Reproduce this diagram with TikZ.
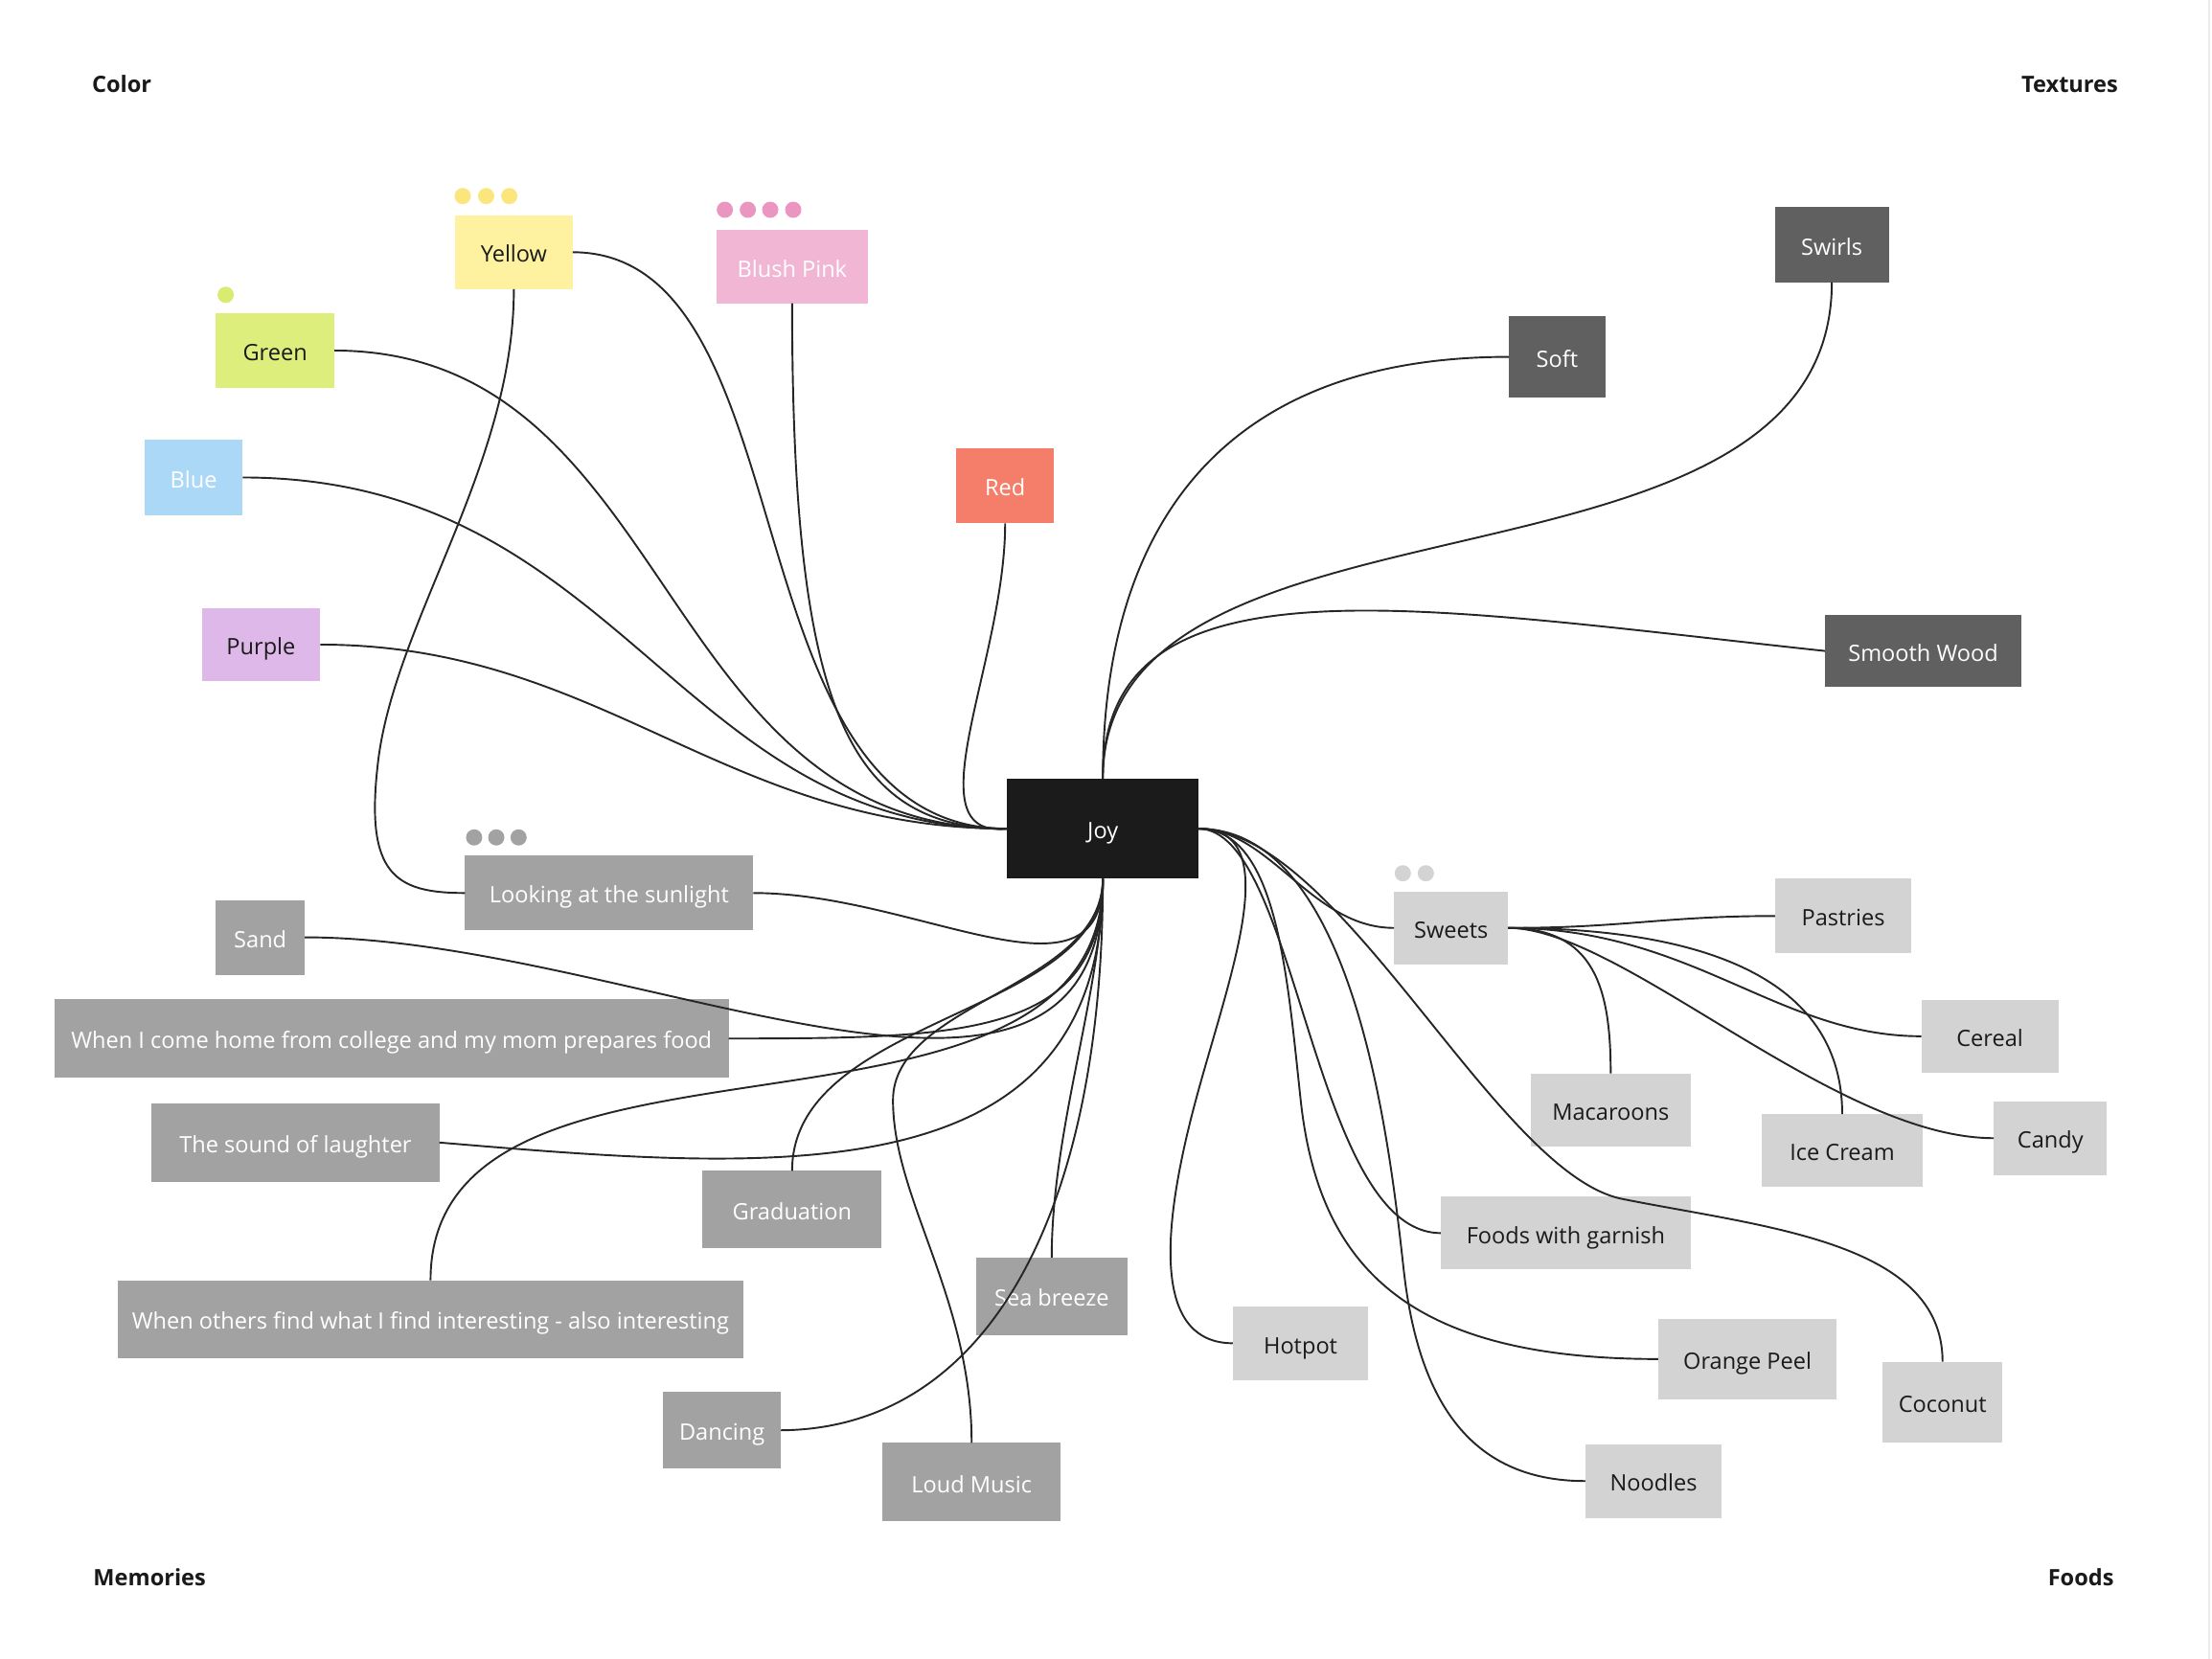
\documentclass[tikz,border=0pt]{standalone}
\usepackage{fontspec}
\setmainfont{Open Sans}
\definecolor{joyc}{HTML}{1B1B1B}
\definecolor{texc}{HTML}{606060}
\definecolor{memc}{HTML}{A2A2A2}
\definecolor{foodc}{HTML}{D3D3D3}
\definecolor{yelc}{HTML}{FEF2A0}
\definecolor{yeldot}{HTML}{FAE67C}
\definecolor{pinkc}{HTML}{F2B6D5}
\definecolor{pinkdot}{HTML}{EA96C0}
\definecolor{greenc}{HTML}{DDEE7D}
\definecolor{greendot}{HTML}{D9EB70}
\definecolor{bluec}{HTML}{ABD8F7}
\definecolor{purplec}{HTML}{DEB8E8}
\definecolor{redc}{HTML}{F47E69}
\definecolor{txtdark}{HTML}{1A1A1A}
\definecolor{linec}{HTML}{262626}
\begin{document}
\begin{tikzpicture}[x=1pt,y=-1pt,
  box/.style={rectangle, inner sep=0pt, outer sep=0pt, anchor=center,
    font=\fontsize{16}{19}\selectfont, text height=15.5pt, text depth=1pt},
  darktxt/.style={box, text=txtdark},
  lighttxt/.style={box, text=white},
  joybox/.style={lighttxt, fill=joyc},
  texbox/.style={lighttxt, fill=texc},
  membox/.style={lighttxt, fill=memc},
  foodbox/.style={darktxt, fill=foodc},
  title/.style={inner sep=0pt, font=\bfseries\fontsize{16}{19}\selectfont, text=txtdark},
  conn/.style={draw=linec, line width=1.3pt},
  dot/.style={circle, inner sep=0pt, minimum size=11.5pt}
]
\useasboundingbox (0,0) rectangle (1568,1176);
\fill[white] (0,0) rectangle (1568,1176);
\draw[draw=black!8, line width=1.5pt] (1566,0) -- (1566,1176);

% titles
\node[title, anchor=base west] (tcolor) at (65,65.5) {Color};
\node[title, anchor=base east] (ttex) at (1501.5,65.5) {Textures};
\node[title, anchor=base west] (tmem) at (66,1124) {Memories};
\node[title, anchor=base east] (tfood) at (1498.6,1124) {Foods};

% color nodes
\node[darktxt, fill=yelc, minimum width=83.5, minimum height=52.4] (yellow) at (364.25,178.8) {Yellow};
\node[lighttxt, fill=pinkc, minimum width=107, minimum height=52] (pink) at (561.5,189) {Blush Pink};
\node[darktxt, fill=greenc, minimum width=84, minimum height=53] (green) at (195,248.5) {Green};
\node[lighttxt, fill=bluec, minimum width=69.5, minimum height=53] (blue) at (137.25,338.5) {Blue};
\node[darktxt, fill=purplec, minimum width=84, minimum height=52] (purple) at (185,457) {Purple};
\node[lighttxt, fill=redc, minimum width=69, minimum height=53] (red) at (712.5,344.5) {Red};

% dots
\foreach \i/\x in {1/328,2/344.6,3/361} \node[dot, fill=yeldot] (yd\i) at (\x,139) {};
\foreach \i/\x in {1/513.8,2/530.1,3/546,4/562.3} \node[dot, fill=pinkdot] (pd\i) at (\x,148.7) {};
\node[dot, fill=greendot] (gd1) at (160,209) {};
\foreach \i/\x in {1/336.1,2/351.8,3/367.6} \node[dot, fill=memc] (ld\i) at (\x,593.7) {};
\foreach \i/\x in {1/994.4,2/1010.7} \node[dot, fill=foodc] (sd\i) at (\x,619.1) {};

% center
\node[joybox, minimum width=135.5, minimum height=71] (joy) at (781.75,587.5) {Joy};

% textures
\node[texbox, minimum width=81, minimum height=53] (swirls) at (1298.5,173.5) {Swirls};
\node[texbox, minimum width=68.4, minimum height=58] (soft) at (1103.8,253) {Soft};
\node[texbox, minimum width=139.4, minimum height=51] (smooth) at (1363.3,461.5) {Smooth Wood};

% memories
\node[membox, minimum width=204.4, minimum height=52.8] (looking) at (431.8,633.1) {Looking at the sunlight};
\node[membox, minimum width=63, minimum height=53] (sand) at (184.5,664.5) {Sand};
\node[membox, minimum width=477.8, minimum height=55.4] (home) at (277.6,736.3) {When I come home from college and my mom prepares food};
\node[membox, minimum width=204, minimum height=56] (laughter) at (209.5,810) {The sound of laughter};
\node[membox, minimum width=127, minimum height=55] (graduation) at (561.5,857.5) {Graduation};
\node[membox, minimum width=443.6, minimum height=55.2] (others) at (305.2,935.2) {When others find what I find interesting - also interesting};
\node[membox, minimum width=107, minimum height=55] (seabreeze) at (745.5,919) {Sea breeze};
\node[membox, minimum width=83.6, minimum height=54.7] (dancing) at (511.8,1014) {Dancing};
\node[membox, minimum width=126.5, minimum height=55.7] (loud) at (688.75,1050.85) {Loud Music};

% foods
\node[foodbox, minimum width=80.8, minimum height=51.7] (sweets) at (1028.6,657.85) {Sweets};
\node[foodbox, minimum width=96.8, minimum height=52.8] (pastries) at (1306.6,649.4) {Pastries};
\node[foodbox, minimum width=97, minimum height=52] (cereal) at (1410.5,734.65) {Cereal};
\node[foodbox, minimum width=80.3, minimum height=52.2] (candy) at (1453.45,806.9) {Candy};
\node[foodbox, minimum width=114.3, minimum height=51.8] (icecream) at (1305.85,815.7) {Ice Cream};
\node[foodbox, minimum width=113.5, minimum height=52] (macaroons) at (1141.75,787) {Macaroons};
\node[foodbox, minimum width=177.2, minimum height=51.6] (garnish) at (1109.9,874.2) {Foods with garnish};
\node[foodbox, minimum width=96.2, minimum height=52.6] (hotpot) at (921.9,952.3) {Hotpot};
\node[foodbox, minimum width=126.6, minimum height=57.4] (orange) at (1238.7,963.5) {Orange Peel};
\node[foodbox, minimum width=84.9, minimum height=57.6] (coconut) at (1377,994.2) {Coconut};
\node[foodbox, minimum width=96.9, minimum height=52] (noodles) at (1172.15,1050) {Noodles};

% connectors: color
\draw[conn] (yellow.east) .. controls (576,179) and (513,587.5) .. (joy.west);
\draw[conn] (pink.south) .. controls (561.5,500) and (600,587.5) .. (joy.west);
\draw[conn] (green.east) .. controls (480,249) and (463,587.5) .. (joy.west);
\draw[conn] (blue.east) .. controls (440,338.5) and (480,587.5) .. (joy.west);
\draw[conn] (purple.east) .. controls (427,457) and (513,587.5) .. (joy.west);
\draw[conn] (red.south) .. controls (712.5,470) and (645,595) .. (joy.west);
\draw[conn] (yellow.south) .. controls (364.25,330) and (280,440) .. (268,540) .. controls (258.4,620) and (280,633.1) .. (looking.west);

% connectors: textures
\draw[conn] (soft.west) .. controls (860,253) and (781.75,380) .. (joy.north);
\draw[conn] (swirls.south) .. controls (1298.5,440) and (781.75,330) .. (joy.north);
\draw[conn] (smooth.west) .. controls (1000,430) and (781.75,390) .. (joy.north);

% connectors: memories
\draw[conn] (looking.east) .. controls (650,633) and (781.75,720) .. (joy.south);
\draw[conn] (sand.east) .. controls (450,664.5) and (781.75,850) .. (joy.south);
\draw[conn] (home.east) .. controls (680,736) and (781.75,736) .. (joy.south);
\draw[conn] (laughter.east) .. controls (550,830) and (781.75,850) .. (joy.south);
\draw[conn] (graduation.north) .. controls (561.5,720) and (781.75,720) .. (joy.south);
\draw[conn] (others.north) .. controls (305.2,700) and (781.75,840) .. (joy.south);
\draw[conn] (seabreeze.north) .. controls (745.5,800) and (781.75,700) .. (joy.south);
\draw[conn] (dancing.east) .. controls (700,1013) and (781.75,860) .. (joy.south);
\draw[conn] (loud.north) .. controls (688.75,920) and (633,850) .. (633,780) .. controls (633,710) and (781.75,700) .. (joy.south);

% connectors: foods
\draw[conn] (sweets.west) .. controls (930,658) and (900,587.5) .. (joy.east);
\draw[conn] (hotpot.west) .. controls (820,952) and (822,880) .. (845,790) .. controls (868,700) and (915,587.5) .. (joy.east);
\draw[conn] (garnish.west) .. controls (930,874) and (920,587.5) .. (joy.east);
\draw[conn] (orange.west) .. controls (1000,963.5) and (935,900) .. (922,780) .. controls (912.25,690) and (905,587.5) .. (joy.east);
\draw[conn] (noodles.west) .. controls (1040,1050) and (1005,990) .. (995,900) .. controls (985,810) and (960,587.5) .. (joy.east);
\draw[conn] (coconut.north) .. controls (1377,880) and (1250,870) .. (1150,850) .. controls (1060,832) and (950,587.5) .. (joy.east);
\draw[conn] (sweets.east) .. controls (1150,658) and (1180,649.4) .. (pastries.west);
\draw[conn] (sweets.east) .. controls (1130,658) and (1141.75,700) .. (macaroons.north);
\draw[conn] (sweets.east) .. controls (1200,658) and (1260,734.65) .. (cereal.west);
\draw[conn] (sweets.east) .. controls (1220,658) and (1305.85,700) .. (icecream.north);
\draw[conn] (sweets.east) .. controls (1150,658) and (1300,806.9) .. (candy.west);
\end{tikzpicture}
\end{document}
